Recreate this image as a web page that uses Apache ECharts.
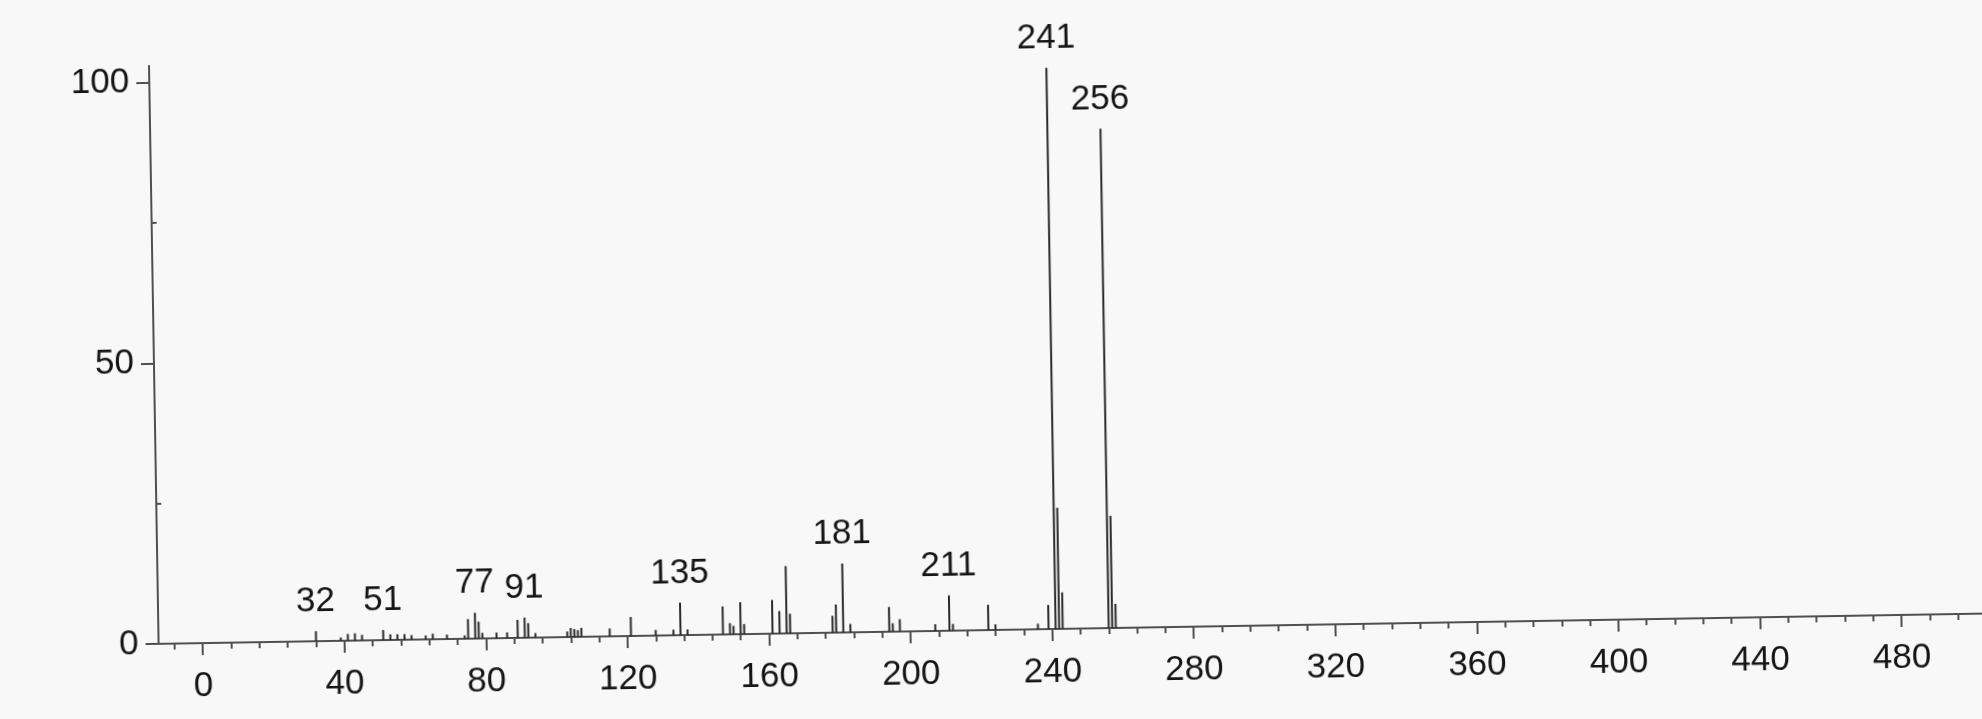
<!DOCTYPE html>
<html>
<head>
<meta charset="utf-8">
<style>
  html, body { margin: 0; padding: 0; background: #f8f8f8; overflow: hidden; }
  #chart { width: 1982px; height: 719px; transform: rotate(-0.95deg); transform-origin: 50% 50%; }
</style>
<script src="https://cdn.jsdelivr.net/npm/echarts@6/dist/echarts.min.js"></script>
</head>
<body>
<div id="chart"></div>
<script>
// m/z values of the peaks
const mz = [32, 39, 41, 43, 45, 51, 53, 55, 57, 59, 63, 65, 69, 74, 75, 77, 78, 79, 83, 86,
            89, 91, 92, 94, 103, 104, 105, 106, 107, 115, 121, 128, 133, 135, 137,
            147, 149, 150, 152, 153, 161, 163, 165, 166, 178, 179, 181, 183,
            194, 195, 197, 207, 211, 212, 222, 224, 236, 239, 241, 242, 243,
            256, 257, 258];
// relative intensities (%)
const intensity = [1.8, 0.6, 1.2, 1.3, 1.0, 1.8, 1.0, 1.0, 1.0, 0.8, 0.7, 1.0, 0.8, 0.6, 3.5, 4.6, 3.0, 1.0, 1.0, 1.0,
                   3.2, 3.6, 2.6, 0.8, 1.0, 1.6, 1.4, 1.2, 1.6, 1.4, 3.4, 1.0, 1.0, 5.8, 1.0,
                   5.0, 2.0, 1.5, 5.7, 1.8, 6.0, 4.0, 12.0, 3.5, 3.0, 5.0, 12.3, 1.5,
                   4.4, 1.5, 2.2, 1.2, 6.3, 1.2, 4.5, 1.0, 1.0, 4.3, 100, 21.6, 6.5,
                   89, 20, 4.3];
// peaks that carry an m/z label
const labeledPeaks = [32, 51, 77, 91, 135, 181, 211, 241, 256];
// axis ticks and labels
const xLabelValues = [0, 40, 80, 120, 160, 200, 240, 280, 320, 360, 400, 440, 480];
const xMinorTickValues = [-8, 0, 8, 16, 24, 32, 40, 48, 56, 64, 72, 80, 88, 96, 104, 112, 120, 128, 136, 144, 152,
                          160, 168, 176, 184, 192, 200, 208, 216, 224, 232, 240, 248, 256, 264, 272, 280, 288,
                          296, 304, 312, 320, 328, 336, 344, 352, 360, 368, 376, 384, 392, 400, 408, 416, 424,
                          432, 440, 448, 456, 464, 472, 480, 488, 496];
const yLabelValues = [0, 50, 100];
const yMinorTickValues = [25, 75];

const textColor = '#151515';
const lineColor = '#505050';
const font = 'Liberation Sans';

const seriesData = mz.map((m, i) => {
  const item = { value: [m, intensity[i]] };
  if (labeledPeaks.includes(m)) {
    item.label = { show: true };
  }
  return item;
});

const chart = echarts.init(document.getElementById('chart'), null, { renderer: 'canvas' });
chart.setOption({
  animation: false,
  backgroundColor: '#f8f8f8',
  grid: { left: 154, right: 0, top: 52, bottom: 89, containLabel: false },
  xAxis: [
    {
      type: 'value', position: 'bottom', min: -12.5, max: 504,
      axisLine: { show: true, onZero: false, lineStyle: { color: lineColor, width: 2 } },
      axisTick: { show: true, customValues: xMinorTickValues, length: 6, inside: false,
                  lineStyle: { color: lineColor, width: 2 } },
      axisLabel: { show: true, customValues: xLabelValues, margin: 26, color: textColor,
                   fontSize: 35, fontFamily: font },
      splitLine: { show: false }
    },
    {
      type: 'value', position: 'bottom', min: -12.5, max: 504,
      axisLine: { show: false, onZero: false },
      axisTick: { show: true, customValues: xLabelValues, length: 12, inside: false,
                  lineStyle: { color: lineColor, width: 2 } },
      axisLabel: { show: false },
      splitLine: { show: false }
    }
  ],
  yAxis: [
    {
      type: 'value', position: 'left', min: 0, max: 103,
      axisLine: { show: true, onZero: false, lineStyle: { color: lineColor, width: 2 } },
      axisTick: { show: true, customValues: yLabelValues, length: 13, inside: false,
                  lineStyle: { color: lineColor, width: 2 } },
      axisLabel: { show: true, customValues: yLabelValues, margin: 20, color: textColor,
                   fontSize: 35, fontFamily: font },
      splitLine: { show: false }
    },
    {
      type: 'value', position: 'left', min: 0, max: 103,
      axisLine: { show: false, onZero: false },
      axisTick: { show: true, customValues: yMinorTickValues, length: 5, inside: true,
                  lineStyle: { color: lineColor, width: 2 } },
      axisLabel: { show: false },
      splitLine: { show: false }
    }
  ],
  series: [
    {
      type: 'bar',
      xAxisIndex: 0,
      yAxisIndex: 0,
      barWidth: 2,
      itemStyle: { color: '#2a2a2a' },
      label: {
        show: false,
        position: 'top',
        distance: 12,
        color: textColor,
        fontSize: 35,
        fontFamily: font,
        formatter: p => String(p.value[0])
      },
      data: seriesData
    }
  ]
});
</script>
</body>
</html>
